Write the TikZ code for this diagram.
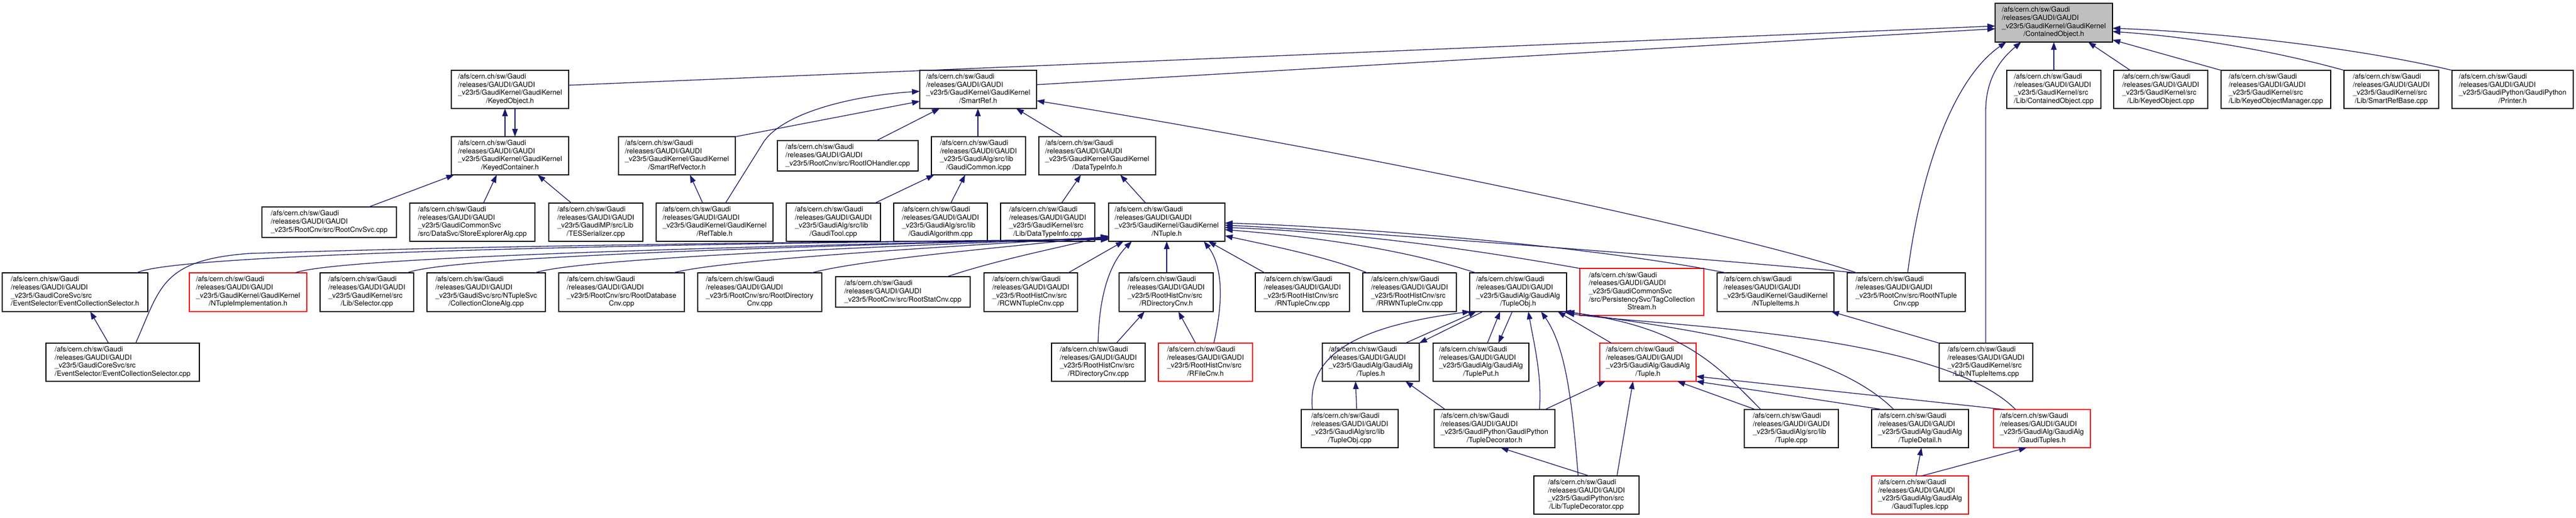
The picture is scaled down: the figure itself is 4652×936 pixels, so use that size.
\documentclass[tikz,border=0pt]{standalone}
\usepackage{fontspec}
\setmainfont{TeX Gyre Heros}
\usetikzlibrary{arrows.meta}
\definecolor{edgecol}{HTML}{191970}
\definecolor{nodegray}{HTML}{BFBFBF}
\newcommand\lblA[2]{\begin{tabular}{@{}l@{}}/afs/cern.ch/sw/Gaudi\\/releases/GAUDI/GAUDI\\#1\\\multicolumn{1}{@{}c@{}}{#2}\end{tabular}}
\newcommand\lblB[1]{\begin{tabular}{@{}l@{}}/afs/cern.ch/sw/Gaudi\\/releases/GAUDI/GAUDI\\#1\end{tabular}}
\newcommand\lblC[3]{\begin{tabular}{@{}l@{}}/afs/cern.ch/sw/Gaudi\\/releases/GAUDI/GAUDI\\#1\\#2\\\multicolumn{1}{@{}c@{}}{#3}\end{tabular}}
\newcommand\gn[7][gbox]{\node[#1,minimum width={(#5-#3)*1pt},minimum height={(#6-#4)*1pt}] (#2) at ({(#3+#5)/2},{(#4+#6)/2}) {#7};}
\begin{document}
\begin{tikzpicture}[x=1pt,y=-1pt,
  gbox/.style={draw=black,line width=1.3pt,fill=white,inner sep=0pt,outer sep=0pt,font=\fontsize{12.8}{14.7}\selectfont},
  rbox/.style={gbox,draw=red},
  graybox/.style={gbox,fill=nodegray},
  edge/.style={draw=edgecol,line width=1.3pt,-{Triangle[length=14pt,width=10pt]}}]
\useasboundingbox[fill=white] (0,0) rectangle (4652,936);
% row 0
\gn[graybox]{co}{3603}{6}{3815}{76}{\lblA{\_v23r5/GaudiKernel/GaudiKernel}{/ContainedObject.h}}
% row 1
\gn{ko}{815}{127}{1027}{196}{\lblA{\_v23r5/GaudiKernel/GaudiKernel}{/KeyedObject.h}}
\gn{sr}{1661}{127}{1872}{196}{\lblA{\_v23r5/GaudiKernel/GaudiKernel}{/SmartRef.h}}
\gn{cocpp}{3624}{127}{3794}{196}{\lblA{\_v23r5/GaudiKernel/src}{/Lib/ContainedObject.cpp}}
\gn{kocpp}{3817}{127}{3987}{196}{\lblA{\_v23r5/GaudiKernel/src}{/Lib/KeyedObject.cpp}}
\gn{komcpp}{4011}{127}{4209}{196}{\lblA{\_v23r5/GaudiKernel/src}{/Lib/KeyedObjectManager.cpp}}
\gn{srbcpp}{4233}{127}{4404}{196}{\lblA{\_v23r5/GaudiKernel/src}{/Lib/SmartRefBase.cpp}}
\gn{prh}{4428}{127}{4647}{196}{\lblA{\_v23r5/GaudiPython/GaudiPython}{/Printer.h}}
% row 2
\gn{kc}{815}{247}{1027}{316}{\lblA{\_v23r5/GaudiKernel/GaudiKernel}{/KeyedContainer.h}}
\gn{srv}{1117}{247}{1328}{316}{\lblA{\_v23r5/GaudiKernel/GaudiKernel}{/SmartRefVector.h}}
\gn{rioh}{1404}{254}{1658}{309}{\lblB{\_v23r5/RootCnv/src/RootIOHandler.cpp}}
\gn{gci}{1682}{247}{1852}{316}{\lblA{\_v23r5/GaudiAlg/src/lib}{/GaudiCommon.icpp}}
\gn{dti}{1876}{247}{2087}{316}{\lblA{\_v23r5/GaudiKernel/GaudiKernel}{/DataTypeInfo.h}}
% row 3
\gn{rcs}{473}{374}{716}{429}{\lblB{\_v23r5/RootCnv/src/RootCnvSvc.cpp}}
\gn{sea}{740}{367}{966}{436}{\lblA{\_v23r5/GaudiCommonSvc}{/src/DataSvc/StoreExplorerAlg.cpp}}
\gn{tes}{991}{367}{1161}{436}{\lblA{\_v23r5/GaudiMP/src/Lib}{/TESSerializer.cpp}}
\gn{rt}{1185}{367}{1396}{436}{\lblA{\_v23r5/GaudiKernel/GaudiKernel}{/RefTable.h}}
\gn{gt}{1420}{367}{1590}{436}{\lblA{\_v23r5/GaudiAlg/src/lib}{/GaudiTool.cpp}}
\gn{ga}{1614}{367}{1783}{436}{\lblA{\_v23r5/GaudiAlg/src/lib}{/GaudiAlgorithm.cpp}}
\gn{dtc}{1807}{367}{1977}{436}{\lblA{\_v23r5/GaudiKernel/src}{/Lib/DataTypeInfo.cpp}}
\gn{nt}{2002}{367}{2212}{436}{\lblA{\_v23r5/GaudiKernel/GaudiKernel}{/NTuple.h}}
% row 4
\gn{ecsh}{4}{493}{267}{563}{\lblA{\_v23r5/GaudiCoreSvc/src}{/EventSelector/EventCollectionSelector.h}}
\gn[rbox]{nti}{342}{493}{554}{563}{\lblA{\_v23r5/GaudiKernel/GaudiKernel}{/NTupleImplementation.h}}
\gn{sel}{578}{493}{747}{563}{\lblA{\_v23r5/GaudiKernel/src}{/Lib/Selector.cpp}}
\gn{cca}{771}{493}{985}{563}{\lblA{\_v23r5/GaudiSvc/src/NTupleSvc}{/CollectionCloneAlg.cpp}}
\gn{rdb}{1009}{493}{1236}{563}{\lblA{\_v23r5/RootCnv/src/RootDatabase}{Cnv.cpp}}
\gn{rdir}{1260}{493}{1484}{563}{\lblA{\_v23r5/RootCnv/src/RootDirectory}{Cnv.cpp}}
\gn{rstat}{1509}{500}{1752}{555}{\lblB{\_v23r5/RootCnv/src/RootStatCnv.cpp}}
\gn{rcwn}{1777}{493}{1946}{563}{\lblA{\_v23r5/RootHistCnv/src}{/RCWNTupleCnv.cpp}}
\gn{rdch}{2021}{493}{2191}{563}{\lblA{\_v23r5/RootHistCnv/src}{/RDirectoryCnv.h}}
\gn{rntc}{2267}{493}{2437}{563}{\lblA{\_v23r5/RootHistCnv/src}{/RNTupleCnv.cpp}}
\gn{rrwn}{2461}{493}{2630}{563}{\lblA{\_v23r5/RootHistCnv/src}{/RRWNTupleCnv.cpp}}
\gn{tobj}{2654}{493}{2829}{563}{\lblA{\_v23r5/GaudiAlg/GaudiAlg}{/TupleObj.h}}
\gn[rbox]{tcs}{2853}{485}{3077}{570}{\lblC{\_v23r5/GaudiCommonSvc}{/src/PersistencySvc/TagCollection}{Stream.h}}
\gn{nth}{3101}{493}{3312}{563}{\lblA{\_v23r5/GaudiKernel/GaudiKernel}{/NTupleItems.h}}
\gn{rntup}{3336}{493}{3549}{563}{\lblA{\_v23r5/RootCnv/src/RootNTuple}{Cnv.cpp}}
% row 5
\gn{ecsc}{83}{620}{360}{689}{\lblA{\_v23r5/GaudiCoreSvc/src}{/EventSelector/EventCollectionSelector.cpp}}
\gn{rdcc}{1899}{620}{2068}{689}{\lblA{\_v23r5/RootHistCnv/src}{/RDirectoryCnv.cpp}}
\gn[rbox]{rfh}{2092}{620}{2262}{689}{\lblA{\_v23r5/RootHistCnv/src}{/RFileCnv.h}}
\gn{tsh}{2388}{620}{2563}{689}{\lblA{\_v23r5/GaudiAlg/GaudiAlg}{/Tuples.h}}
\gn{tph}{2588}{620}{2761}{689}{\lblA{\_v23r5/GaudiAlg/GaudiAlg}{/TuplePut.h}}
\gn[rbox]{tuh}{2889}{620}{3063}{689}{\lblA{\_v23r5/GaudiAlg/GaudiAlg}{/Tuple.h}}
\gn{nticpp}{3502}{620}{3671}{689}{\lblA{\_v23r5/GaudiKernel/src}{/Lib/NTupleItems.cpp}}
% row 6
\gn{tocpp}{2350}{740}{2525}{809}{\lblA{\_v23r5/GaudiAlg/src/lib}{/TupleObj.cpp}}
\gn{tdh}{2590}{740}{2808}{809}{\lblA{\_v23r5/GaudiPython/GaudiPython}{/TupleDecorator.h}}
\gn{tucpp}{3150}{740}{3320}{809}{\lblA{\_v23r5/GaudiAlg/src/lib}{/Tuple.cpp}}
\gn{tdeth}{3380}{740}{3555}{809}{\lblA{\_v23r5/GaudiAlg/GaudiAlg}{/TupleDetail.h}}
\gn[rbox]{gtsh}{3600}{740}{3775}{809}{\lblA{\_v23r5/GaudiAlg/GaudiAlg}{/GaudiTuples.h}}
% row 7
\gn{tdcpp}{2770}{860}{2960}{929}{\lblA{\_v23r5/GaudiPython/src}{/Lib/TupleDecorator.cpp}}
\gn[rbox]{gtsi}{3380}{860}{3555}{929}{\lblA{\_v23r5/GaudiAlg/GaudiAlg}{/GaudiTuples.icpp}}
% ---------------- edges
\draw[edge] ([yshift=-27pt]ko.north east) -- ([yshift=-41pt]co.north west);
\draw[edge] ([yshift=-26pt]sr.north east) -- ([yshift=-46pt]co.north west);
\draw[edge] ([xshift=85pt]cocpp.north west) -- ([xshift=106pt]co.south west);
\draw[edge] ([xshift=30pt]kocpp.north west) -- ([xshift=168pt]co.south west);
\draw[edge] (komcpp.north west) -- ([yshift=-66pt]co.north east);
\draw[edge] (srbcpp.north west) .. controls (4100,90) and (3950,66) .. ([yshift=-51pt]co.north east);
\draw[edge] (prh.north west) .. controls (4250,85) and (4000,58) .. ([yshift=-45pt]co.north east);
\draw[edge] ([xshift=109pt]rntup.north west) .. controls (3470,300) and (3530,140) .. ([xshift=20pt]co.south west);
\draw[edge] ([xshift=84pt]nticpp.north west) -- (3586,200) .. controls (3586,140) and (3615,105) .. ([xshift=47pt]co.south west);
\draw[edge] ([xshift=17pt]rntup.north west) .. controls (3200,440) and (2600,300) .. ([yshift=-55pt]sr.north east);
\draw[edge] ([xshift=97pt]kc.north west) -- ([xshift=97pt]ko.south west);
\draw[edge] ([xshift=115pt]ko.south west) -- ([xshift=115pt]kc.north west);
\draw[edge] ([xshift=193pt]rcs.north west) -- ([xshift=5pt]kc.south west);
\draw[edge] ([xshift=133pt]sea.north west) -- ([xshift=82pt]kc.south west);
\draw[edge] ([xshift=41pt]tes.north west) -- ([xshift=156pt]kc.south west);
\draw[edge] ([xshift=84pt]rt.north west) -- ([xshift=129pt]srv.south west);
\draw[edge] (srv.north east) -- ([yshift=-56pt]sr.north west);
\draw[edge] ([xshift=125pt]rt.north west) -- (1380,255) .. controls (1420,200) and (1550,172) .. ([yshift=-38pt]sr.north west);
\draw[edge] ([xshift=179pt]rioh.north west) -- ([xshift=36pt]sr.south west);
\draw[edge] ([xshift=84pt]gci.north west) -- ([xshift=105pt]sr.south west);
\draw[edge] ([xshift=43pt]dti.north west) -- ([xshift=174pt]sr.south west);
\draw[edge] ([xshift=160pt]gt.north west) -- ([xshift=5pt]gci.south west);
\draw[edge] ([xshift=103pt]ga.north west) -- ([xshift=61pt]gci.south west);
\draw[edge] ([xshift=110pt]dtc.north west) -- ([xshift=76pt]dti.south west);
\draw[edge] ([xshift=67pt]nt.north west) -- ([xshift=147pt]dti.south west);
% into NTuple.h bottom-left
\draw[edge] ([xshift=243pt]ecsh.north west) .. controls (330,450) and (1600,436) .. ([yshift=3pt]nt.south west);
\draw[edge] ([xshift=162pt]ecsc.north west) .. controls (290,520) and (290,470) .. (450,458) .. controls (1000,440) and (1700,436) .. ([yshift=4pt]nt.south west);
\draw[edge] ([xshift=191pt]nti.north west) .. controls (620,460) and (1600,440) .. ([yshift=5pt]nt.south west);
\draw[edge] ([xshift=157pt]sel.north west) .. controls (820,460) and (1600,442) .. ([yshift=6pt]nt.south west);
\draw[edge] ([xshift=195pt]cca.north west) .. controls (1050,465) and (1650,444) .. ([yshift=7pt]nt.south west);
\draw[edge] ([xshift=207pt]rdb.north west) .. controls (1300,470) and (1700,446) .. ([yshift=8pt]nt.south west);
\draw[edge] ([xshift=206pt]rdir.north west) .. controls (1550,470) and (1800,448) .. ([yshift=9pt]nt.south west);
\draw[edge] ([xshift=201pt]rstat.north west) .. controls (1800,470) and (1900,450) .. ([yshift=10pt]nt.south west);
\draw[edge] ([xshift=152pt]rcwn.north west) -- ([xshift=27pt]nt.south west);
\draw[edge] ([xshift=86pt]rdch.north west) -- ([xshift=105pt]nt.south west);
\draw[edge] ([xshift=84pt]rdcc.north west) .. controls (1985,520) and (2010,470) .. ([xshift=42pt]nt.south west);
\draw[edge] ([xshift=100pt]rfh.north west) .. controls (2215,520) and (2200,470) .. ([xshift=172pt]nt.south west);
\draw[edge] ([xshift=17pt]rntc.north west) -- ([xshift=180pt]nt.south west);
\draw[edge] ([xshift=8pt]rrwn.north west) .. controls (2400,465) and (2300,445) .. ([yshift=-59pt]nt.north east);
\draw[edge] ([xshift=11pt]tobj.north west) .. controls (2550,455) and (2400,430) .. ([yshift=-48pt]nt.north east);
\draw[edge] (tcs.north west) .. controls (2600,440) and (2400,418) .. ([yshift=-44pt]nt.north east);
\draw[edge] ([xshift=16pt]nth.north west) .. controls (2850,440) and (2400,408) .. ([yshift=-36pt]nt.north east);
\draw[edge] ([xshift=17pt]rntup.north west) .. controls (3000,460) and (2400,415) .. ([yshift=-40pt]nt.north east);
\draw[edge] ([xshift=113pt]ecsc.north west) -- ([xshift=159pt]ecsh.south west);
\draw[edge] ([xshift=117pt]rdcc.north west) -- ([xshift=46pt]rdch.south west);
\draw[edge] ([xshift=67pt]rfh.north west) -- ([xshift=107pt]rdch.south west);
\draw[edge] (nticpp.north west) -- ([xshift=-5pt]nth.south east);
% TupleObj cluster
\draw[edge] ([xshift=150pt]tsh.north west) -- ([xshift=12pt]tobj.south west);
\draw[edge] ([xshift=24pt]tobj.south west) -- (tsh.north east);
\draw[edge] ([xshift=98pt]tph.north west) -- ([xshift=55pt]tobj.south west);
\draw[edge] ([xshift=77pt]tobj.south west) -- ([xshift=118pt]tph.north west);
\draw[edge] ([xshift=21pt]tuh.north west) -- ([xshift=159pt]tobj.south west);
\draw[edge] ([xshift=100pt]tocpp.north west) -- ([xshift=60pt]tsh.south west);
\draw[edge] ([xshift=20pt]tocpp.north west) .. controls (2360,640) and (2450,590) .. ([xshift=1pt]tobj.south west);
\draw[edge] ([xshift=20pt]tdh.north west) -- ([xshift=150pt]tsh.south west);
\draw[edge] ([xshift=200pt]tdh.north west) -- ([xshift=10pt]tuh.south west);
\draw[edge] ([xshift=190pt]tdh.north west) .. controls (2785,680) and (2770,620) .. ([xshift=106pt]tobj.south west);
\draw[edge] ([xshift=100pt]tdcpp.north west) -- ([xshift=120pt]tdh.south west);
\draw[edge] ([xshift=150pt]tdcpp.north west) -- ([xshift=60pt]tuh.south west);
\draw[edge] ([xshift=80pt]tdcpp.north west) .. controls (2840,740) and (2830,630) .. ([xshift=129pt]tobj.south west);
\draw[edge] ([xshift=20pt]tucpp.north west) -- ([xshift=140pt]tuh.south west);
\draw[edge] ([xshift=30pt]tucpp.north west) .. controls (3100,660) and (3040,590) .. ([xshift=169pt]tobj.south west);
\draw[edge] ([xshift=20pt]tdeth.north west) -- (tuh.south east);
\draw[edge] ([xshift=40pt]tdeth.north west) .. controls (3300,620) and (3000,590) .. (tobj.south east);
\draw[edge] ([xshift=20pt]gtsh.north west) -- ([yshift=-60pt]tuh.north east);
\draw[edge] ([xshift=40pt]gtsh.north west) .. controls (3500,600) and (3000,590) .. ([yshift=-3pt]tobj.south east);
\draw[edge] ([xshift=90pt]gtsi.north west) -- ([xshift=60pt]gtsh.south west);
\draw[edge] ([xshift=80pt]gtsi.north west) -- ([xshift=90pt]tdeth.south west);
\end{tikzpicture}
\end{document}
